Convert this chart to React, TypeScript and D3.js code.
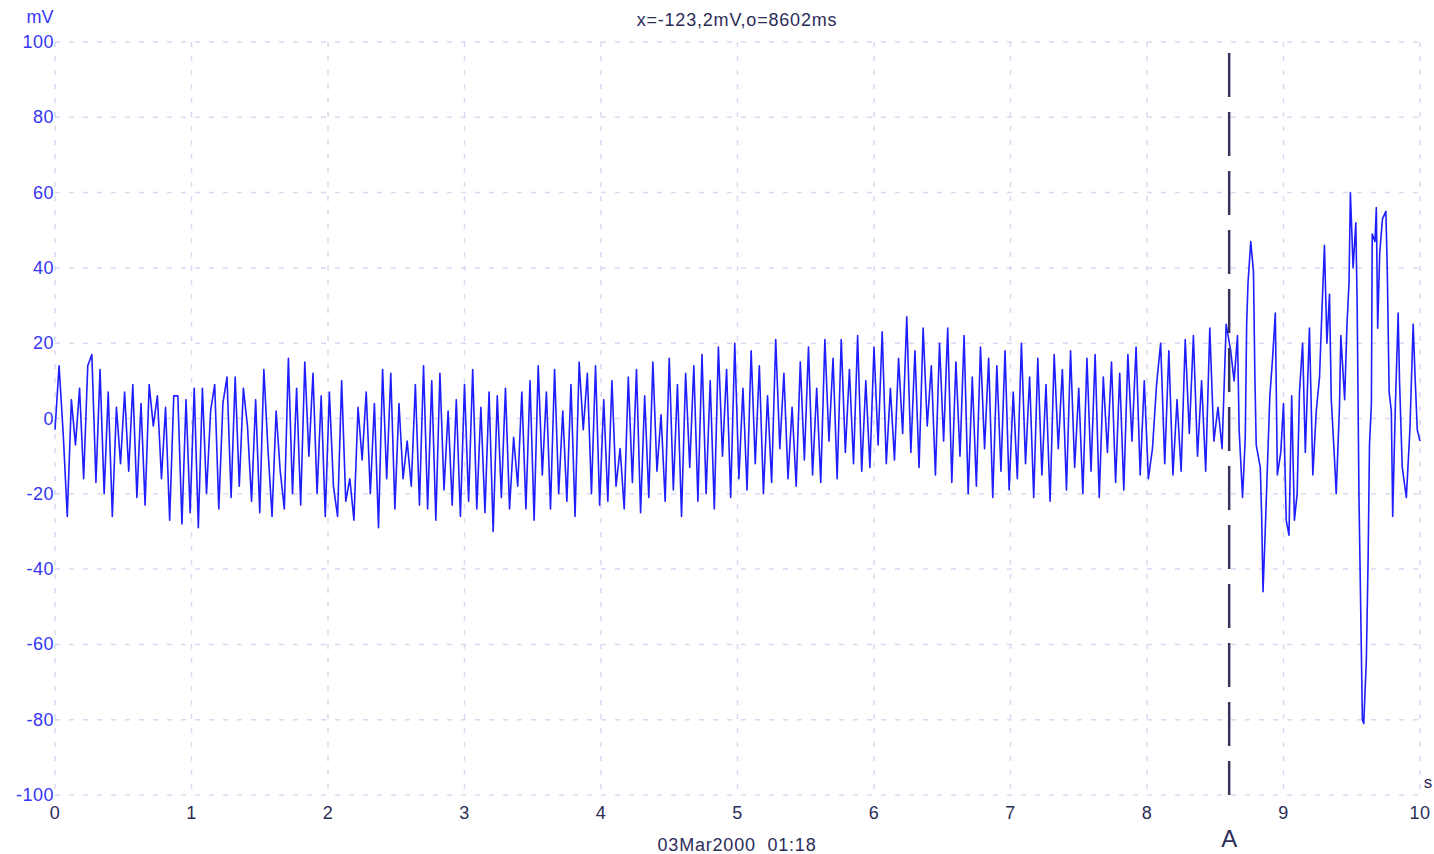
import React from "react";
import * as d3 from "d3";

// ---- data ----
const SAMPLE_INTERVAL = 0.03; // seconds between baseline samples
const baselineValues: number[] = [
  -3, 14, -4, -26, 5, -7, 8, -16, 14, 17,
  -17, 13, -20, 7, -26, 3, -12, 7, -14, 9,
  -21, 4, -23, 9, -2, 6, -16, 3, -27, 6,
  6, -28, 5, -25, 8, -29, 8, -20, 2, 9,
  -24, 4, 11, -21, 11, -18, 8, -2, -22, 5,
  -25, 13, -8, -26, 2, -14, -24, 16, -20, 8,
  -23, 15, -10, 12, -20, 6, -26, 7, -18, -26,
  10, -22, -16, -27, 3, -11, 7, -20, 4, -29,
  13, -16, 12, -24, 4, -16, -6, -18, 9, -23,
  14, -24, 10, -27, 12, -19, 2, -23, 5, -26,
  9, -22, 13, -24, 3, -25, 7, -30, 6, -21,
  8, -24, -5, -18, 7, -24, 10, -27, 14, -15,
  7, -24, 13, -20, 2, -22, 9, -26, 15, -3,
  12, -20, 14, -23, 5, -22, 10, -18, -8, -24,
  11, -17, 13, -25, 6, -21, 15, -14, 1, -22,
  16, -19, 9, -26, 12, -13, 14, -22, 17, -20,
  10, -24, 19, -10, 13, -21, 20, -16, 8, -19,
  18, -12, 14, -20, 6, -17, 21, -8, 12, -16,
  3, -18, 15, -11, 19, -15, 8, -17, 21, -6,
  16, -16, 21, -9, 13, -12, 22, -14, 10, -13,
  19, -7, 23, -12, 8, -11, 16, -4, 27, -9,
  18, -13, 24, -2, 14, -15, 20, -6, 24, -17,
  15, -10, 22, -20, 11, -18, 19, -8, 16, -21,
  14, -14, 18, -19, 7, -16, 20, -12, 11, -21,
  16, -15, 9, -22, 17, -8, 13, -19, 18, -13,
  8, -20, 16, -14, 17, -21, 11, -9, 15, -17,
  12, -19, 17, -6, 19, -15, 10, -16, -8, 9,
  20, -12, 18, -15, 5, -14, 21, -4, 22, -10,
  10, -14, 24, -6, 3, -8, 25,
];
const burstTimes: number[] = [
  8.613, 8.638, 8.663, 8.675, 8.7, 8.72, 8.73, 8.74, 8.76, 8.78,
  8.79, 8.8, 8.83, 8.84, 8.85, 8.866, 8.88, 8.9, 8.92, 8.94,
  8.955, 8.98, 9.0, 9.02, 9.04, 9.06, 9.08, 9.1, 9.117, 9.14,
  9.16, 9.19, 9.215, 9.24, 9.264, 9.28, 9.3, 9.318, 9.337, 9.35,
  9.374, 9.386, 9.41, 9.42, 9.448, 9.465, 9.48, 9.49, 9.51, 9.53,
  9.54, 9.553, 9.57, 9.578, 9.588, 9.607, 9.62, 9.63, 9.644, 9.65,
  9.67, 9.68, 9.69, 9.705, 9.725, 9.75, 9.76, 9.774, 9.79, 9.8,
  9.82, 9.84, 9.85, 9.87, 9.9, 9.926, 9.95, 9.963, 9.98, 10.0,
];
const burstValues: number[] = [
  18, 10, 22, -3, -21, -5, 25, 36, 47, 39,
  12, -7, -13, -26, -46, -30, -15, 6, 16, 28,
  -15, -9, 4, -27, -31, 6, -27, -20, 7, 20,
  -9, 24, -15, 2, 11, 27, 46, 20, 33, 5,
  -11, -20, 3, 22, 5, 25, 36, 60, 40, 52,
  29, -21, -61, -80, -81, -64, -37, -7, 4, 49,
  47, 56, 24, 44, 53, 55, 40, 7, 2, -26,
  4, 28, 10, -13, -21, -3, 25, 12, -3, -6,
];
const xTicks: number[] = [0, 1, 2, 3, 4, 5, 6, 7, 8, 9, 10];
const yTicks: number[] = [-100, -80, -60, -40, -20, 0, 20, 40, 60, 80, 100];
const markerTime = 8.602;
const markerLabel = "A";
const headerText = "x=-123,2mV,o=8602ms";
const dateText = "03Mar2000  01:18";
const yUnit = "mV";
const xUnit = "s";

const W = 1434;
const H = 854;

export default function App() {
  const x = d3.scaleLinear().domain([0, 10]).range([55, 1420]);
  const y = d3.scaleLinear().domain([-100, 100]).range([795, 42]);

  const points: [number, number][] = [
    ...baselineValues.map((v, i) => [i * SAMPLE_INTERVAL, v] as [number, number]),
    ...burstTimes.map((t, i) => [t, burstValues[i]] as [number, number]),
  ];
  const line = d3
    .line<[number, number]>()
    .x((d) => x(d[0]))
    .y((d) => y(d[1]));

  const gridColor = "#d9d9f3";
  const font = "'Liberation Sans', Arial, sans-serif";
  const blue = "#3535f5";
  const navy = "#2c2c58";

  return (
    <svg
      width={W}
      height={H}
      style={{ position: "absolute", left: 0, top: 0, background: "#fff" }}
    >
      {/* grid */}
      {yTicks.map((t) => (
        <line
          key={"h" + t}
          x1={x(0)}
          x2={x(10)}
          y1={y(t)}
          y2={y(t)}
          stroke={gridColor}
          strokeWidth={1.5}
          strokeDasharray="5 9"
        />
      ))}
      {xTicks.map((t) => (
        <line
          key={"v" + t}
          x1={x(t)}
          x2={x(t)}
          y1={y(100)}
          y2={y(-100)}
          stroke={gridColor}
          strokeWidth={1.5}
          strokeDasharray="5 9"
        />
      ))}
      {/* y labels */}
      {yTicks.map((t) => (
        <text
          key={"yl" + t}
          x={54}
          y={y(t)}
          textAnchor="end"
          dominantBaseline="central"
          fontFamily={font}
          fontSize={18}
          letterSpacing={0.5}
          fill={blue}
        >
          {t}
        </text>
      ))}
      <text x={40} y={17} textAnchor="middle" dominantBaseline="central" fontFamily={font} fontSize={18} fill={blue}>
        {yUnit}
      </text>
      {/* x labels */}
      {xTicks.map((t) => (
        <text
          key={"xl" + t}
          x={x(t)}
          y={813}
          textAnchor="middle"
          dominantBaseline="central"
          fontFamily={font}
          fontSize={18}
          letterSpacing={0.5}
          fill={navy}
        >
          {t}
        </text>
      ))}
      <text x={1428} y={782} textAnchor="middle" dominantBaseline="central" fontFamily={font} fontSize={17} fill={navy}>
        {xUnit}
      </text>
      <text
        x={737}
        y={845}
        textAnchor="middle"
        dominantBaseline="central"
        fontFamily={font}
        fontSize={18}
        letterSpacing={0.8}
        fill={navy}
        style={{ whiteSpace: "pre" }}
      >
        {dateText}
      </text>
      <text
        x={737}
        y={20}
        textAnchor="middle"
        dominantBaseline="central"
        fontFamily={font}
        fontSize={18}
        letterSpacing={0.8}
        fill={navy}
      >
        {headerText}
      </text>
      {/* signal */}
      <path d={line(points) || ""} fill="none" stroke="#1e1eff" strokeWidth={1.6} strokeLinejoin="round" />
      {/* marker */}
      <line
        x1={x(markerTime)}
        x2={x(markerTime)}
        y1={53}
        y2={y(-100)}
        stroke="#34345c"
        strokeWidth={2.5}
        strokeDasharray="44 15"
      />
      <text x={x(markerTime)} y={838} textAnchor="middle" dominantBaseline="central" fontFamily={font} fontSize={24} fill={navy}>
        {markerLabel}
      </text>
    </svg>
  );
}
